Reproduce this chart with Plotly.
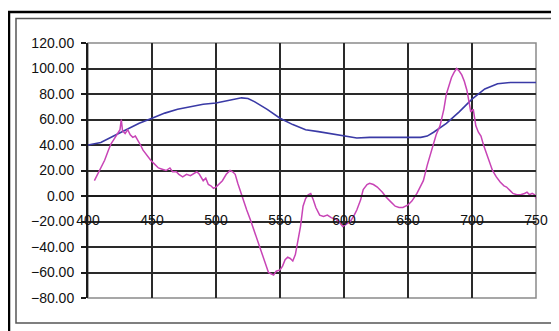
import plotly.graph_objects as go

blue_x = [400, 410, 420, 430, 440, 450, 460, 470, 480, 490, 500, 510, 520, 525, 530, 540, 550, 560, 570, 580,
          590, 600, 610, 620, 630, 640, 650, 660, 665, 670, 680, 690, 700, 710, 720, 730, 740, 750]
blue_y = [40, 42, 47, 52, 57, 61, 65, 68, 70, 72, 73, 75, 77, 76.5, 74, 68, 61, 56, 52, 50.5,
          49, 47, 45.5, 46, 46, 45.5, 45.5, 46, 47, 50, 57, 66, 76, 84, 88, 89, 89, 89]

mag_x = [405, 408, 411, 413, 416, 418, 420, 422, 424, 425, 426, 427, 429, 431, 433, 435, 437, 439, 441, 443,
         445, 447, 449, 452, 455, 458, 461, 464, 466, 469, 471, 474, 477, 480, 483, 485, 487, 490, 492, 494,
         496, 498, 500, 502, 505, 508, 511, 513, 515, 517, 519, 521, 524, 527, 530, 532, 535, 537, 539, 541,
         543, 545, 547, 550, 552, 554, 556, 558, 560, 562, 564, 566, 568, 570, 572, 574, 576, 578, 581, 584,
         587, 590, 593, 596, 599, 602, 605, 608, 610, 613, 615, 618, 620, 623, 626, 630, 633, 636, 640, 643,
         646, 650, 653, 657, 660, 662, 665, 668, 670, 672, 675, 678, 680, 682, 684, 686, 688, 690, 692, 694,
         696, 698, 699, 701, 703, 705, 707, 709, 711, 713, 716, 719, 722, 725, 727, 730, 732, 735, 738, 741,
         743, 745, 747, 749, 750]
mag_y = [12, 18, 24, 28, 36, 41, 44, 47, 51, 52, 60, 51, 49, 52, 48, 46, 47, 44, 40, 36,
         33, 30, 28, 25, 22, 21, 20, 22, 19, 19, 17, 15, 17, 16, 18, 19, 17, 12, 14, 9,
         8, 6, 7, 9, 12, 17, 20, 19, 17, 10, 4, -3, -11, -19, -28, -34, -42, -48, -55, -60,
         -61, -62, -59, -58, -55, -50, -48, -49, -51, -46, -35, -24, -8, -2, 1, 2, -3, -9, -15, -16,
         -15, -17, -18, -20, -24, -22, -20, -15, -11, -3, 5, 9, 10, 9, 7, 3, -1, -4, -8, -9,
         -9, -7, -4, 2, 8, 12, 24, 34, 40, 48, 55, 68, 80, 87, 93, 97, 100, 98, 95, 90,
         83, 72, 66, 68, 55, 50, 47, 40, 34, 28, 20, 15, 11, 8, 7, 4, 2, 1, 1, 2,
         3, 1, 2, 1, -2]

x_ticks = [400, 450, 500, 550, 600, 650, 700, 750]
y_ticks = [-80, -60, -40, -20, 0, 20, 40, 60, 80, 100, 120]

# the page places the figure at an 8px offset; geometry below is in window pixels
OFF = 8
L, R, T, B = 88, 536, 43, 298
W, H = 559, 331
def px(p):
    return (p - L) / (R - L)
def py(p):
    return (B - p) / (B - T)

fig = go.Figure()
fig.add_trace(go.Scatter(x=blue_x, y=blue_y, mode="lines",
                         line=dict(color="#3a3aa6", width=1.6), showlegend=False))
fig.add_trace(go.Scatter(x=mag_x, y=mag_y, mode="lines",
                         line=dict(color="#c844b6", width=1.5), showlegend=False))

font = dict(family="Liberation Sans, Arial, sans-serif", size=14, color="#111")

fig.update_layout(
    width=W - OFF, height=H - OFF,
    margin=dict(l=L - OFF, r=W - R, t=T - OFF, b=H - B, pad=0),
    paper_bgcolor="white", plot_bgcolor="white",
    font=font,
    xaxis=dict(range=[400, 750], tickvals=x_ticks, ticktext=[str(v) for v in x_ticks],
               showgrid=True, gridcolor="#2a2a2a", gridwidth=2,
               zeroline=False, showline=True, linecolor="#1a1a1a", linewidth=2,
               anchor="free", position=py(196), ticks="", ticklabelstandoff=11,
               tickfont=font),
    yaxis=dict(range=[-80, 120], tickvals=y_ticks, tickformat=".2f",
               showgrid=True, gridcolor="#2a2a2a", gridwidth=2,
               zeroline=False, showline=True, linecolor="#1a1a1a", linewidth=2,
               ticks="outside", ticklen=5, tickcolor="#1a1a1a", tickwidth=2,
               ticklabelstandoff=4, tickfont=font),
    shapes=[
        dict(type="rect", xref="paper", yref="paper", x0=0, x1=1, y0=0, y1=1,
             line=dict(color="#8a8a8a", width=1.5), layer="below"),
        dict(type="rect", xref="paper", yref="paper", x0=px(16), x1=px(563), y0=py(323), y1=py(18.5),
             line=dict(color="#555", width=1.5), layer="below"),
        dict(type="rect", xref="paper", yref="paper", x0=px(9), x1=px(557), y0=py(345), y1=py(12),
             line=dict(color="black", width=2.5), layer="below"),
    ],
)

fig.write_html("out.html")
